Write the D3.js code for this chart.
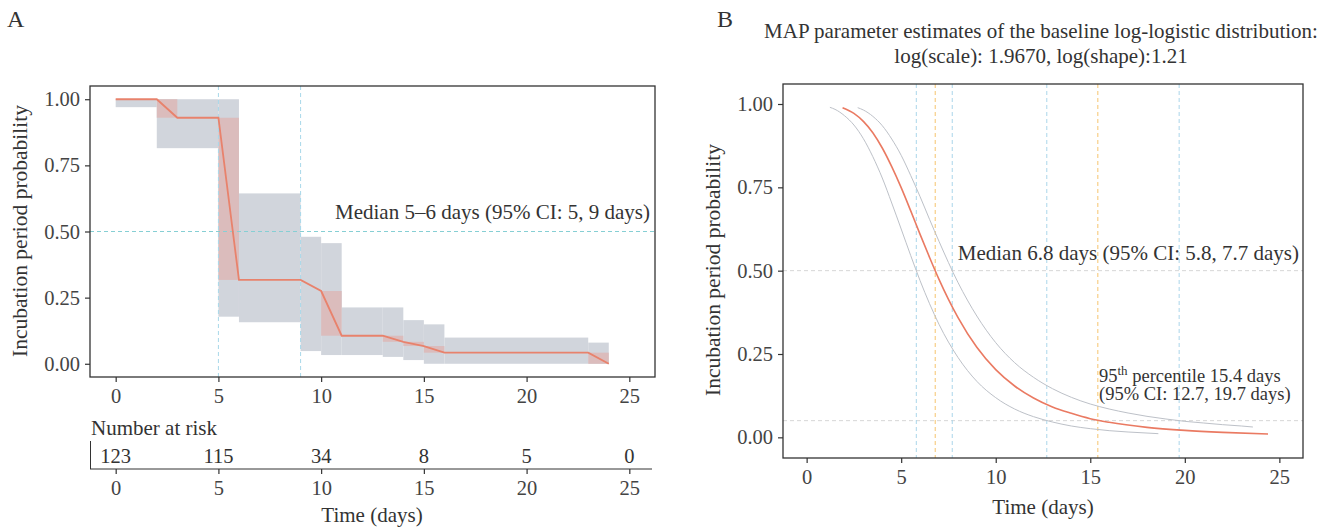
<!DOCTYPE html>
<html>
<head>
<meta charset="utf-8">
<script src="https://cdn.jsdelivr.net/npm/d3@7"></script>
<style>
  body { margin: 0; background: #fff; }
  svg text { font-family: "Liberation Serif", "DejaVu Serif", serif; fill: #333; }
  .axis path { display: none; }
  .axis line { stroke: #333; stroke-width: 1.2; }
  .axis text { font-family: "Liberation Serif", "DejaVu Serif", serif; font-size: 20.5px; fill: #444; }
</style>
</head>
<body>
<script>
// ---- panel A: estimate line (days, probability)
var kmTime = [0, 2, 3, 5, 6, 9, 10, 11, 13, 14, 15, 16, 23, 24];
var kmProb = [1.0, 1.0, 0.930, 0.930, 0.317, 0.317, 0.275, 0.106, 0.106, 0.083, 0.067, 0.042, 0.042, 0.0];

// grey 95% CI steps
var ciStart = [0, 2, 5, 6, 9, 10, 11, 13, 14, 15, 16, 23];
var ciEnd   = [2, 5, 6, 9, 10, 11, 13, 14, 15, 16, 23, 24];
var ciLow   = [0.970, 0.815, 0.178, 0.157, 0.048, 0.033, 0.033, 0.026, 0.014, 0.0, 0.0, 0.0];
var ciHigh  = [1.0, 1.0, 1.0, 0.644, 0.480, 0.456, 0.213, 0.213, 0.165, 0.149, 0.099, 0.080];

// red intervals where the estimate drops
var jumpStart = [2, 5, 10, 13, 14, 15, 23];
var jumpEnd   = [3, 6, 11, 14, 15, 16, 24];
var jumpHigh  = [1.0, 0.930, 0.275, 0.106, 0.083, 0.067, 0.042];
var jumpLow   = [0.930, 0.317, 0.106, 0.083, 0.067, 0.042, 0.0];

var medianA = [5, 9];
var riskTimes = [0, 5, 10, 15, 20, 25];
var riskN = [123, 115, 34, 8, 5, 0];

// ---- panel B: fitted log-logistic curve and its CI
var fitTime = [1.9, 2.5, 3, 3.5, 4, 4.5, 5, 5.5, 6, 6.5, 7, 7.5, 8, 9, 10, 11, 12, 13, 14, 15, 16, 18, 20, 22, 24.4];
var fitProb = [0.989, 0.972, 0.948, 0.914, 0.868, 0.812, 0.749, 0.680, 0.609, 0.540, 0.474, 0.414, 0.360, 0.270, 0.203, 0.154, 0.118, 0.091, 0.072, 0.056, 0.045, 0.030, 0.021, 0.015, 0.010];

var lowTime = [1.23, 1.5, 2, 2.5, 3, 3.5, 4, 4.5, 5, 5.5, 6, 6.5, 7, 8, 9, 10, 11, 12, 13, 14, 15, 16, 17, 18.6];
var lowProb = [0.990, 0.984, 0.965, 0.937, 0.896, 0.842, 0.778, 0.703, 0.625, 0.546, 0.470, 0.401, 0.339, 0.240, 0.168, 0.119, 0.085, 0.062, 0.046, 0.034, 0.026, 0.020, 0.016, 0.011];

var upTime = [2.7, 3, 3.5, 4, 4.5, 5, 5.5, 6, 6.5, 7, 8, 9, 10, 11, 12, 13, 14, 15, 16, 17, 18, 19, 20, 21, 22, 23, 23.6];
var upProb = [0.989, 0.982, 0.963, 0.935, 0.895, 0.846, 0.786, 0.722, 0.654, 0.588, 0.465, 0.364, 0.284, 0.224, 0.180, 0.146, 0.120, 0.100, 0.085, 0.073, 0.063, 0.055, 0.048, 0.043, 0.038, 0.034, 0.031];

var bBlueLines = [5.8, 7.7, 12.7, 19.7];
var bOrangeLines = [6.8, 15.4];
var bHLines = [0.5, 0.05];

var xTicks = [0, 5, 10, 15, 20, 25];
var yTicks = [0, 0.25, 0.5, 0.75, 1];

var svg = d3.select("body").append("svg")
    .attr("width", 1322)
    .attr("height", 530)
    .attr("font-family", "Liberation Serif, serif");

var pairs = function(xs, ys){ return xs.map(function(d, i){ return [d, ys[i]]; }); };

// ================= panel A =================
var xA = d3.scaleLinear().domain([-1.25, 26.25]).range([90, 655]);
var yA = d3.scaleLinear().domain([-0.05, 1.05]).range([377, 86]);

var gA = svg.append("g");

gA.selectAll(".ci")
    .data(ciStart)
    .enter()
    .append("rect")
    .attr("x", function(d){ return xA(d); })
    .attr("width", function(d, i){ return xA(ciEnd[i]) - xA(d); })
    .attr("y", function(d, i){ return yA(ciHigh[i]); })
    .attr("height", function(d, i){ return yA(ciLow[i]) - yA(ciHigh[i]); })
    .attr("fill", "#d1d5dc");

gA.selectAll(".jump")
    .data(jumpStart)
    .enter()
    .append("rect")
    .attr("x", function(d){ return xA(d); })
    .attr("width", function(d, i){ return xA(jumpEnd[i]) - xA(d); })
    .attr("y", function(d, i){ return yA(jumpHigh[i]); })
    .attr("height", function(d, i){ return yA(jumpLow[i]) - yA(jumpHigh[i]); })
    .attr("fill", "#dbbcbc");

//median guide lines
gA.selectAll(".vmed")
    .data(medianA)
    .enter()
    .append("line")
    .attr("x1", function(d){ return xA(d); })
    .attr("x2", function(d){ return xA(d); })
    .attr("y1", 86).attr("y2", 377)
    .attr("stroke", "#a9d8ea").attr("stroke-width", 1)
    .attr("stroke-dasharray", "4,3");

gA.append("line")
    .attr("x1", 90).attr("x2", 655)
    .attr("y1", yA(0.5)).attr("y2", yA(0.5))
    .attr("stroke", "#86cfd4").attr("stroke-width", 1)
    .attr("stroke-dasharray", "4,3");

gA.append("path")
    .datum(pairs(kmTime, kmProb))
    .attr("d", d3.line().x(function(d){ return xA(d[0]); }).y(function(d){ return yA(d[1]); }))
    .attr("fill", "none")
    .attr("stroke", "#e8826c")
    .attr("stroke-width", 1.8);

gA.append("text")
    .attr("x", 650).attr("y", 219)
    .attr("text-anchor", "end")
    .attr("font-size", 21)
    .text("Median 5–6 days (95% CI: 5, 9 days)");

gA.append("rect")
    .attr("x", 90).attr("y", 86)
    .attr("width", 565).attr("height", 291)
    .attr("fill", "none").attr("stroke", "#333").attr("stroke-width", 1.3);

gA.append("g")
    .attr("class", "axis")
    .attr("transform", "translate(0,377)")
    .call(d3.axisBottom(xA).tickValues(xTicks).tickSize(5).tickPadding(6))
    .attr("font-family", null).attr("font-size", null);

gA.append("g")
    .attr("class", "axis")
    .attr("transform", "translate(90,0)")
    .call(d3.axisLeft(yA).tickValues(yTicks).tickFormat(d3.format(".2f")).tickSize(5).tickPadding(5))
    .attr("font-family", null).attr("font-size", null);

gA.append("text")
    .attr("transform", "translate(27,231) rotate(-90)")
    .attr("text-anchor", "middle")
    .attr("font-size", 21.5)
    .text("Incubation period probability");

gA.append("text")
    .attr("x", 7).attr("y", 27)
    .attr("font-size", 24)
    .text("A");

// number at risk table
gA.append("text")
    .attr("x", 91).attr("y", 435)
    .attr("font-size", 21)
    .text("Number at risk");

gA.append("line")
    .attr("x1", 90.5).attr("x2", 90.5)
    .attr("y1", 441).attr("y2", 469)
    .attr("stroke", "#333");

gA.append("line")
    .attr("x1", 90).attr("x2", 652)
    .attr("y1", 469).attr("y2", 469)
    .attr("stroke", "#333");

gA.selectAll(".risk")
    .data(riskN)
    .enter()
    .append("text")
    .attr("x", function(d, i){ return xA(riskTimes[i]); })
    .attr("y", 463)
    .attr("text-anchor", "middle")
    .attr("font-size", 20.5)
    .attr("fill", "#444")
    .text(function(d){ return d; });

gA.append("g")
    .attr("class", "axis")
    .attr("transform", "translate(0,469)")
    .call(d3.axisBottom(xA).tickValues(xTicks).tickSize(5).tickPadding(6))
    .attr("font-family", null).attr("font-size", null);

gA.append("text")
    .attr("x", 372).attr("y", 522)
    .attr("text-anchor", "middle")
    .attr("font-size", 21)
    .text("Time (days)");

// ================= panel B =================
var xB = d3.scaleLinear().domain([-1.25, 26.25]).range([783, 1303]);
var yB = d3.scaleLinear().domain([-0.062, 1.06]).range([458, 84]);

var gB = svg.append("g");

gB.selectAll(".hl")
    .data(bHLines)
    .enter()
    .append("line")
    .attr("x1", 783).attr("x2", 1303)
    .attr("y1", function(d){ return yB(d); })
    .attr("y2", function(d){ return yB(d); })
    .attr("stroke", "#d6d6d6").attr("stroke-dasharray", "4,3");

gB.selectAll(".vb")
    .data(bBlueLines)
    .enter()
    .append("line")
    .attr("x1", function(d){ return xB(d); })
    .attr("x2", function(d){ return xB(d); })
    .attr("y1", 84).attr("y2", 458)
    .attr("stroke", "#aad6ea").attr("stroke-dasharray", "4,3");

gB.selectAll(".vo")
    .data(bOrangeLines)
    .enter()
    .append("line")
    .attr("x1", function(d){ return xB(d); })
    .attr("x2", function(d){ return xB(d); })
    .attr("y1", 84).attr("y2", 458)
    .attr("stroke", "#f6c46e").attr("stroke-dasharray", "4,3");

var lineB = d3.line()
    .x(function(d){ return xB(d[0]); })
    .y(function(d){ return yB(d[1]); })
    .curve(d3.curveMonotoneX);

gB.append("path")
    .datum(pairs(lowTime, lowProb))
    .attr("d", lineB)
    .attr("fill", "none").attr("stroke", "#bdc1c8").attr("stroke-width", 1);

gB.append("path")
    .datum(pairs(upTime, upProb))
    .attr("d", lineB)
    .attr("fill", "none").attr("stroke", "#bdc1c8").attr("stroke-width", 1);

gB.append("path")
    .datum(pairs(fitTime, fitProb))
    .attr("d", lineB)
    .attr("fill", "none").attr("stroke", "#ea7a62").attr("stroke-width", 1.6);

gB.append("text")
    .attr("x", 1299).attr("y", 260)
    .attr("text-anchor", "end")
    .attr("font-size", 21)
    .text("Median 6.8 days (95% CI: 5.8, 7.7 days)");

var p95 = gB.append("text")
    .attr("x", 1099).attr("y", 382)
    .attr("font-size", 18.5);
p95.append("tspan").text("95");
p95.append("tspan").attr("dy", -7).attr("font-size", 13).text("th");
p95.append("tspan").attr("dy", 7).text(" percentile 15.4 days");

gB.append("text")
    .attr("x", 1099).attr("y", 400)
    .attr("font-size", 18.5)
    .text("(95% CI: 12.7, 19.7 days)");

gB.append("rect")
    .attr("x", 783).attr("y", 84)
    .attr("width", 520).attr("height", 374)
    .attr("fill", "none").attr("stroke", "#333").attr("stroke-width", 1.3);

gB.append("g")
    .attr("class", "axis")
    .attr("transform", "translate(0,458)")
    .call(d3.axisBottom(xB).tickValues(xTicks).tickSize(5).tickPadding(6))
    .attr("font-family", null).attr("font-size", null);

gB.append("g")
    .attr("class", "axis")
    .attr("transform", "translate(783,0)")
    .call(d3.axisLeft(yB).tickValues(yTicks).tickFormat(d3.format(".2f")).tickSize(5).tickPadding(5))
    .attr("font-family", null).attr("font-size", null);

gB.append("text")
    .attr("transform", "translate(720,270) rotate(-90)")
    .attr("text-anchor", "middle")
    .attr("font-size", 21.5)
    .text("Incubation period probability");

gB.append("text")
    .attr("x", 1043).attr("y", 514)
    .attr("text-anchor", "middle")
    .attr("font-size", 21)
    .text("Time (days)");

gB.append("text")
    .attr("x", 717).attr("y", 27)
    .attr("font-size", 24)
    .text("B");

gB.append("text")
    .attr("x", 1041).attr("y", 38)
    .attr("text-anchor", "middle")
    .attr("font-size", 21)
    .text("MAP parameter estimates of the baseline log-logistic distribution:");

gB.append("text")
    .attr("x", 1041).attr("y", 63)
    .attr("text-anchor", "middle")
    .attr("font-size", 21)
    .text("log(scale): 1.9670, log(shape):1.21");
</script>
</body>
</html>
